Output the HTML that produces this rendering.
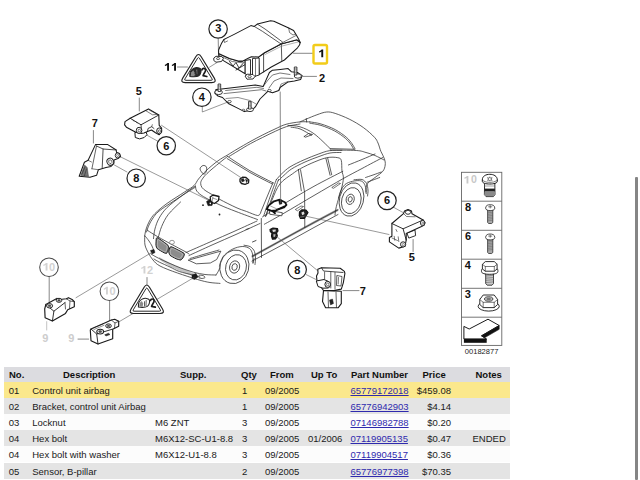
<!DOCTYPE html>
<html><head><meta charset="utf-8">
<style>
html,body{margin:0;padding:0;background:#fff;width:640px;height:480px;overflow:hidden;font-family:"Liberation Sans",sans-serif;}
#dg{position:absolute;left:0;top:0;}
.tb{position:absolute;left:4px;width:506px;font-size:9.5px;color:#1a1a1a;}
.r{position:absolute;left:0;width:506px;height:16px;line-height:16px;}
.r span{position:absolute;top:1px;white-space:nowrap;}
.h span{top:0;}
.h{top:367px;height:15px;line-height:15px;background:#dcdce0;font-weight:bold;color:#111;}
.y{background:#fbe88c;}
.g{background:#e4e4e4;}
.w{background:#fcfcfc;}
a{color:#2f2aae;text-decoration:underline;}
.sb{position:absolute;left:635px;top:177px;width:2.5px;height:303px;background:#858585;border-radius:1px;}
</style></head><body>
<svg id="dg" width="640" height="366" viewBox="0 0 640 366" font-family="Liberation Sans, sans-serif">
<!--CAR-->
<path id="intake" d="M158.7,256.8 L170,263 L181,268 L196.3,274.4 L196.3,277.4 L181,271.5 L170,266.5 L160.5,260.5 Z" fill="#c4c4c4"/>
<path id="sillband" d="M252,256.5 L290,235.6 L314,222.5 L338,209.8" fill="none" stroke="#9a9a9a" stroke-width="2.2"/>
<g fill="none" stroke="#2a2a2a" stroke-width="0.75" stroke-linecap="round" stroke-linejoin="round">
<path d="M144.7,235.9 C144.9,234.8 145.3,231.6 146.1,229.1 C146.9,226.6 148,223.6 149.5,221 C151,218.4 152,216.5 154.9,213.6 C157.8,210.7 162.1,207 167.1,203.4 C172.1,199.8 180.2,194.9 184.7,191.9 C189.2,188.9 191.8,187.7 194.1,185.5 C196.4,183.3 196.5,181.4 198.5,179 C200.5,176.6 202.8,173.8 206,170.8 C209.2,167.8 214.4,163.4 218,160.8 C221.6,158.2 224.3,156.9 227.5,155 C230.7,153.1 233.2,151.4 237,149.2 C240.8,147 245.8,144 250,141.7 C254.2,139.4 257.8,137.4 262,135.3 C266.2,133.2 271,130.8 275,129 C279,127.2 281.8,125.5 286,124.3 C290.2,123.1 296,122.3 300,121.9 C304,121.5 308.2,121.9 309.8,121.9"/>
<path d="M146.5,232 C146.9,230.8 147.9,227.3 149,225 C150.1,222.7 151.5,220.2 153,218 C154.5,215.8 155.5,214.2 158,212 C160.5,209.8 163.4,207.9 168,204.8 C172.6,201.7 181,196.3 185.5,193.4 C190,190.5 193.6,188.3 195.2,187.3"/>
<path d="M229,156.5 C230.5,155.6 234.4,153.2 238,151 C241.6,148.8 246.4,145.8 250.5,143.6 C254.6,141.3 258.3,139.6 262.5,137.5 C266.7,135.4 271.5,133 275.5,131.2 C279.5,129.4 282.4,127.8 286.5,126.6 C290.6,125.4 297.8,124.4 300,124"/>
<path d="M300,121.9 C301.1,121.4 303.5,120.3 306.3,119.1 C309.1,117.9 313.5,116 316.9,114.8 C320.3,113.6 323.6,112.2 326.7,112 C329.8,111.8 331.4,112.2 335.2,113.4 C338.9,114.6 344.5,116.8 349.2,119.1 C353.9,121.4 359.1,124.5 363.3,127.5 C367.5,130.5 372.1,134.7 374.5,137.3 C376.9,139.9 376.9,140.7 378,143 C379.1,145.3 379.8,148.8 380.9,151.4 C382,154 383.7,156.5 384.4,158.8 C385.1,161.1 385.5,162.9 385.2,165 C384.9,167.1 384.5,169.2 382.8,171.3 C381.1,173.4 377.3,175.7 375,177.5 C372.7,179.3 370.2,180.8 368.8,182.2 C367.4,183.6 367,184.4 366.5,186 C366,187.6 366.1,191 366,192"/>
<path d="M306.3,118.5 L306.6,122"/>
<path d="M309.8,121.9 C311.7,122.2 316.9,122.7 321.1,124 C325.3,125.3 331,127.4 335.2,129.6 C339.4,131.8 343.6,135 346.4,137.3 C349.2,139.7 350.6,141.8 352,143.7 C353.4,145.6 354.4,147.8 354.9,148.6"/>
<path d="M309.8,123.2 C311.7,123.6 316.9,124.1 321,125.4 C325.1,126.7 330.6,128.8 334.7,131 C338.8,133.2 342.9,136.2 345.6,138.5 C348.3,140.8 349.7,142.8 351,144.6 C352.3,146.3 353.1,148.3 353.5,149"/>
<path d="M330.2,148.6 L354.9,149.3"/>
<path d="M288,125.5 C290,125.7 295.6,125.4 300,126.8 C304.4,128.2 309.1,130.2 314.1,133.8 C319.1,137.4 327.5,146.1 330.2,148.6"/>
<path d="M291,127.2 C292.5,127.5 296.6,127.6 300,128.9 C303.4,130.2 309.4,134.1 311.3,135.2"/>
<path d="M304.2,136.5 L308.5,133.5 L312.5,134.5 L305.5,137.2 L304.2,136.5"/>
<path d="M330.2,150 C334.6,150.1 350.3,150.1 356.3,150.5 C362.3,150.9 362.9,151.7 366,152.5 C369.1,153.3 372,154.2 375,155.5 C378,156.8 382.5,159.2 384,160"/>
<path d="M348.4,165 C350.7,164.1 357.6,161.3 362,159.5 C366.4,157.7 372.8,154.9 375,154"/>
<path d="M227.5,156.3 C229.2,157.5 234.2,160.9 238,163.3 C241.8,165.7 246,168.5 250,170.8 C254,173.1 258.1,175.2 262,177.2 C265.9,179.2 271.2,181.9 273.1,182.8"/>
<path d="M227.2,158.6 C229,159.7 234.2,162.9 238,165.2 C241.8,167.5 246,170.2 250,172.5 C254,174.8 258.3,176.9 262,178.8 C265.7,180.7 270.6,183.1 272.3,184"/>
<path d="M227.5,156.5 C226.2,157.6 222.9,160 219.5,162.8 C216.1,165.6 209.9,170.7 207,173.5 C204.1,176.3 203.1,177.8 202,179.5 C200.9,181.2 200.7,182.2 200.7,183.5 C200.7,184.8 201.1,186.2 202,187.5 C202.9,188.8 204.3,189.8 206,191 C207.7,192.2 209.7,193.1 212,194.5 C214.3,195.9 216,197.3 220,199.5 C224,201.7 231.6,205.5 236,207.5 C240.4,209.5 243,210.2 246.6,211.5 C250.2,212.8 255.2,215.2 257.5,215.5 C259.8,215.8 260.1,213.4 260.6,213"/>
<path d="M273.1,182.8 L271.6,185.9 L260.6,212.5"/>
<path d="M276.3,179.7 C275.2,182.6 272.1,191 270,197 C267.9,203 264.8,212.5 263.8,215.6"/>
<path d="M278.5,179.5 C277.4,182.5 274.2,191.3 272,197.5 C269.8,203.7 266.6,213.3 265.5,216.5"/>
<path d="M195.5,186.5 C195.7,187.3 195.6,189.5 196.9,191.2 C198.2,192.9 199.8,194.4 203.6,196.7 C207.4,199 214.6,202.5 220,205 C225.4,207.5 229.8,209.1 236,211.5 C242.2,213.9 253.9,218.2 257.5,219.5"/>
<path d="M276.3,179.7 C277.2,178.7 279.7,175.6 282,173.5 C284.3,171.4 286.3,169.2 290,166.9 C293.7,164.6 299.4,161.9 304.1,159.8 C308.8,157.7 313.9,155.7 318.1,154.2 C322.3,152.7 325.4,151.3 329.4,150.7 C333.4,150 339.9,150.4 342,150.3"/>
<path d="M278.5,180.5 C279.4,179.6 281.8,177.2 284,175.3 C286.2,173.4 288,171.2 291.5,169 C295,166.8 300.4,164.1 305,162 C309.6,159.9 314.8,158 319,156.5 C323.2,155 326.3,153.7 330,153 C333.7,152.3 339.2,152.6 341,152.5"/>
<path d="M266,216 C267,213.3 269.7,205.4 272,200 C274.3,194.6 276.6,188.2 280,183.8 C283.4,179.4 289.4,176.2 292.5,173.8 C295.6,171.5 297.4,170.4 298.4,169.7"/>
<path d="M298.4,169.7 C300.5,168.6 306.4,165.4 311.1,163.4 C315.8,161.4 322.2,158.6 326.6,157.7 C331.1,156.8 335.4,157.2 337.8,157.7 C340.2,158.2 340.6,158.3 341.3,160.5 C342,162.7 341.6,168.2 342,171.1 C342.4,174 343.5,175 343.4,178.1 C343.3,181.2 342.5,184.7 341.3,189.4 C340.1,194.1 337.4,202 336.4,206.3 C335.3,210.6 335.2,213.6 335,215"/>
<path d="M298.4,169.7 L301.3,190.8"/>
<path d="M300.5,169.7 L304.6,192.2 L304.8,227.5"/>
<path d="M325.9,158.4 L330.1,175.3"/>
<path d="M327.7,158.2 L331.7,174.8"/>
<path d="M262.5,216.9 C266.1,214.7 275.4,208.9 284,203.8 C292.6,198.7 304.2,191.7 314,186.3 C323.8,180.9 338,173.8 342.8,171.3"/>
<path d="M264.4,224.2 C267.7,222.4 275.7,218 284,213.2 C292.3,208.4 304.2,201.2 314,195.5 C323.8,189.8 334.8,183.3 342.8,178.8 C350.8,174.3 355.3,172.1 362,168.5 C368.7,164.9 379.3,159.3 382.8,157.5"/>
<path d="M365.6,177.5 C366.8,177.1 370.4,175.9 373,175 C375.6,174.1 379.9,172.5 381.3,172"/>
<path d="M367.2,182.2 C368.2,181.8 370.9,180.8 373,180 C375.1,179.2 378.6,177.9 379.7,177.5"/>
<path d="M261.3,218.5 L261.5,257.5"/>
<path d="M252,256.5 L290,235.6 L314,222.5 L338,209.8"/>
<path d="M252,261.1 L290,240.8 L314,227.5 L338,214.5"/>
<path d="M144.7,235.9 C144.8,237.4 144.4,242.2 145,245 C145.6,247.8 147.1,250.5 148.4,253 C149.7,255.5 151.1,257.8 153,260 C154.9,262.2 155.9,263.8 160,266 C164.1,268.2 171.2,270.8 177.5,273 C183.8,275.2 192.1,277.9 197.5,279.5 C202.9,281.1 206.2,281.9 210,282.5 C213.8,283.1 218.3,283.2 220,283.4"/>
<path d="M147,230 C148.2,230.8 150.2,232.2 154,234.5 C157.8,236.8 164.8,240.7 170,243.5 C175.2,246.3 181.8,249.8 185,251.5 C188.2,253.2 188.3,253.6 189,254"/>
<path d="M186,252.5 C190,250.8 201.8,245.6 210,242 C218.2,238.4 227.2,234.5 235,231 C242.8,227.5 253.3,222.7 257,221"/>
<path d="M189,255.5 C192.8,253.8 204,248.6 212,245 C220,241.4 229,237.6 237,234 C245,230.4 256.2,225.2 260,223.5"/>
<path d="M195.5,185.8 C193,187.6 185.3,193.1 180.6,196.7 C175.9,200.3 170.7,203.9 167.1,207.5 C163.5,211.1 161,214.7 159,218.3 C157,221.9 155.8,225.7 154.9,229.1 C154,232.5 153.7,237 153.5,238.6"/>
<path d="M180.6,202 C178.6,204.1 171.6,210.2 168.4,214.3 C165.2,218.4 163.4,222.6 161.7,226.4 C160,230.2 158.9,235.5 158.3,237.3"/>
<path d="M188.5,260.2 L205,255.5 L220.9,251.1 L216.7,259.5 L210.3,263 L196.3,263.8 L188.5,260.2"/>
<path d="M190,258.5 C192.5,257.8 200.2,255.4 205,254 C209.8,252.6 216.7,250.7 219,250"/>
<path d="M145.5,236.5 C146.1,237.2 147.9,239.4 149,241 C150.1,242.6 151.2,244.5 152,246 C152.8,247.5 153.2,249.3 153.5,250"/>
<path d="M151,254 C152.2,254.7 155.1,256.5 158.3,258.1 C161.5,259.7 166.2,261.9 170,263.5 C173.8,265.1 176.9,266.6 180.8,268 C184.7,269.4 189.4,271.1 193.4,272.2 C197.4,273.3 201.2,274 205,274.5 C208.8,275 214.2,274.9 216,275"/>
<path d="M154,259 C154.9,259.6 157,261 159.7,262.3 C162.4,263.6 166.7,265.5 170,267 C173.3,268.5 175.6,270.2 179.4,271.5 C183.2,272.8 189.3,274.1 192.7,275 C196.1,275.9 198.8,276.7 200,277"/>
<path d="M199,275.2 C199.7,275.2 202,275.1 203,275.5 C204,275.9 205.2,277 205,277.5 C204.8,278 203,278.4 202,278.5 C201,278.6 199.5,277.9 199,277.8"/>
<path d="M216,275 C216.5,274.2 218.3,271.5 219,270 C219.7,268.5 219.8,266.7 220,266"/>
<path d="M219.5,266 C219.8,265.2 220.2,262.8 221,261 C221.8,259.2 222.5,257 224.5,255 C226.5,253 229.9,250.4 232.8,249 C235.8,247.6 239.4,246.6 242.2,246.5 C245,246.4 247.8,247.2 249.5,248.5 C251.2,249.8 251.9,251.6 252.5,254 C253.1,256.4 252.9,261.5 253,263"/>
<path d="M244,245.2 C245.1,245.5 248.8,245.8 250.5,246.8 C252.2,247.9 253.7,249.6 254.5,251.5 C255.3,253.4 255.4,255.8 255.5,258 C255.6,260.2 255.1,263.4 255,264.5"/>
<path d="M338.5,198 C338.9,196.8 339.7,192.9 340.8,190.7 C341.9,188.4 343.1,186.1 345,184.5 C346.9,182.9 349.8,181.9 352.5,181.3 C355.2,180.7 359.2,180.2 361.3,181 C363.4,181.8 364.4,183.7 365.2,185.8 C366,187.9 366,192.3 366.2,193.6"/>
<path d="M354,179.8 C355.3,179.8 359.9,178.9 362,179.5 C364.1,180.1 365.5,181.8 366.5,183.5 C367.5,185.2 367.8,187.9 368,190 C368.2,192.1 367.6,195 367.5,196"/>
<path d="M253,263 L254,258.5"/>
<path d="M246,229.5 L249,228.5"/>
</g>
<ellipse cx="234.4" cy="266.8" rx="14.4" ry="17.0" transform="rotate(15 234.4 266.8)" fill="#fff" stroke="#2a2a2a" stroke-width="0.75"/>
<ellipse cx="236.0" cy="267.3" rx="10.3" ry="12.8" transform="rotate(15 236.0 267.3)" fill="none" stroke="#2a2a2a" stroke-width="0.75"/>
<ellipse cx="234.6" cy="267.0" rx="5.0" ry="6.2" transform="rotate(15 234.6 267.0)" fill="none" stroke="#2a2a2a" stroke-width="0.75"/>
<ellipse cx="234.6" cy="267.0" rx="2.6" ry="3.4" transform="rotate(15 234.6 267.0)" fill="none" stroke="#2a2a2a" stroke-width="0.75"/>
<ellipse cx="351.5" cy="199.5" rx="12.0" ry="17.0" transform="rotate(15 351.5 199.5)" fill="#fff" stroke="#2a2a2a" stroke-width="0.75"/>
<ellipse cx="351.3" cy="200.6" rx="9.6" ry="13.2" transform="rotate(15 351.3 200.6)" fill="none" stroke="#2a2a2a" stroke-width="0.75"/>
<ellipse cx="350.2" cy="199.3" rx="4.0" ry="5.2" transform="rotate(15 350.2 199.3)" fill="none" stroke="#2a2a2a" stroke-width="0.75"/>
<ellipse cx="350.2" cy="199.3" rx="2.0" ry="2.7" transform="rotate(15 350.2 199.3)" fill="none" stroke="#2a2a2a" stroke-width="0.75"/>
<path d="M156.3,238.7 C156.5,238 156.8,237.3 158,238 C159.2,238.7 167,244.2 168,245.3 C169,246.4 168.4,248.5 168.3,249.3 C168.2,250.1 167.1,253 166.7,253.3 C166.3,253.6 164.9,253.2 164,252.7 C163.1,252.2 158.1,249.4 157.3,248.7 C156.5,248 156.1,246.3 156,245.3 C155.9,244.3 156.1,239.4 156.3,238.7 Z" fill="#8c8c8c" stroke="#1a1a1a" stroke-width="1.0"/>
<path d="M157.5,240.4 C157.7,239.8 157.9,239.3 158.8,239.9 C159.8,240.4 165.8,244.7 166.6,245.5 C167.4,246.4 167,248 166.9,248.7 C166.8,249.3 166,251.5 165.6,251.8 C165.3,252 164.3,251.7 163.5,251.3 C162.8,251 158.9,248.8 158.3,248.2 C157.7,247.6 157.4,246.3 157.3,245.5 C157.2,244.8 157.4,241 157.5,240.4 Z" fill="none" stroke="#d0d0d0" stroke-width="0.6"/>
<path d="M170,247.3 C170.3,246.9 170.6,246.4 172,247 C173.4,247.6 182.9,252.3 184,253.3 C185.1,254.3 183.6,256.6 183.3,257.3 C183,258 181.4,259.9 180.7,260 C180,260.1 177.1,259.2 176,258.7 C174.9,258.2 170.7,256 170,255.3 C169.3,254.6 168.7,252.1 168.7,251.3 C168.7,250.5 169.7,247.7 170,247.3 Z" fill="#8c8c8c" stroke="#1a1a1a" stroke-width="1.0"/>
<path d="M171.2,248.7 C171.5,248.4 171.7,248 172.8,248.5 C173.9,249 181.3,252.6 182.1,253.4 C183,254.2 181.9,256 181.6,256.5 C181.3,257 180.1,258.5 179.6,258.6 C179,258.7 176.7,258 175.9,257.6 C175.1,257.2 171.8,255.5 171.2,255 C170.7,254.4 170.2,252.5 170.2,251.8 C170.2,251.2 171,249.1 171.2,248.7 Z" fill="none" stroke="#d0d0d0" stroke-width="0.6"/>
<ellipse cx="172" cy="242.3" rx="2.4" ry="2" fill="#fff" stroke="#555" stroke-width="0.6"/>
<path d="M240,179 L242.5,177.2 L246,177.5 L248.8,180 L248.5,183 L245,184.3 L241.5,183.5 L240,181.5 Z" fill="#fff" stroke="#1a1a1a" stroke-width="1.3" stroke-linejoin="round" />
<path d="M241,179.5 L243.5,178.4 L244.5,181 L242,182 Z" fill="#1a1a1a" stroke="#1a1a1a" stroke-width="0.4" stroke-linejoin="round" />
<path d="M245.5,179 L247.8,180.6 L246.5,182.7 Z" fill="#1a1a1a" stroke="#1a1a1a" stroke-width="0.4" stroke-linejoin="round" />
<path d="M210.2,197 L213,195 L219,196.5 L218.5,200.5 L214.5,203.5 L210.8,202.2 Z" fill="#fff" stroke="#1a1a1a" stroke-width="1.3" stroke-linejoin="round" />
<path d="M212.5,198 L217,199.5" fill="none" stroke="#555" stroke-width="0.6" stroke-linecap="round" stroke-linejoin="round"/>
<path d="M213,197 L212,202" fill="none" stroke="#555" stroke-width="0.6" stroke-linecap="round" stroke-linejoin="round"/>
<path d="M206.5,201.5 L209.5,199.5 L213,202.5 L212,205.5 L208,205.7 Z" fill="#1a1a1a" stroke="#1a1a1a" stroke-width="0.5" stroke-linejoin="round" />
<path d="M209,203 L211,202.5 L211,204.5 Z" fill="#fff" stroke="#1a1a1a" stroke-width="0" stroke-linejoin="round" />
<path d="M269.3,210.6 L269.8,214.3 L281.8,215.8 L282.3,212.7 Z" fill="#fff" stroke="#1a1a1a" stroke-width="0.7" stroke-linejoin="round" />
<path d="M266.7,209.1 L268.8,205.4 L274,201.3 L279.7,199.7 L284.9,202.3 L286.5,204.9 L283.9,207.5 L277.6,209.6 L274.5,211.7 L275,213.2 L272.4,211.1 Z" fill="#fff" stroke="#111" stroke-width="1.8" stroke-linejoin="round" />
<path d="M278.5,200.2 L281.5,199.8 L282,203.8 L279.5,204.5 Z" fill="#111" stroke="#1a1a1a" stroke-width="0.4" stroke-linejoin="round" />
<path d="M272.5,210.5 L276,210.2 L284,206.3" fill="none" stroke="#111" stroke-width="1.3" stroke-linecap="round" stroke-linejoin="round"/>
<path d="M270.5,206 L277,209" fill="none" stroke="#666" stroke-width="0.6" stroke-linecap="round" stroke-linejoin="round"/>
<path d="M299.5,212 L302,209.8 L306,210 L308,212.5 L306.5,215 L304.5,218.3 L300.5,218.5 L299.3,215.5 Z" fill="#222" stroke="#111" stroke-width="1.2" stroke-linejoin="round" />
<path d="M301.3,212.6 L303.8,211.6 L304.6,214 L302.3,215.2 Z" fill="#ddd" stroke="#1a1a1a" stroke-width="0" stroke-linejoin="round" />
<path d="M300.5,217 L304,216.5" fill="none" stroke="#999" stroke-width="0.6" stroke-linecap="round" stroke-linejoin="round"/>
<path d="M270,229.5 L273,228 L277.5,228.6 L278,231 L276.5,233 L277.3,236 L275.5,239 L272.5,239.2 L271.5,236 L272,233 L270.3,231.5 Z" fill="#222" stroke="#111" stroke-width="1.2" stroke-linejoin="round" />
<path d="M272.3,229.8 L275.8,229.5 L275.6,231.5 L273,232 Z" fill="#ddd" stroke="#1a1a1a" stroke-width="0" stroke-linejoin="round" />
<path d="M273.3,234.3 L275.6,234.2 L275,236.8 L273.5,236.9 Z" fill="#bbb" stroke="#1a1a1a" stroke-width="0" stroke-linejoin="round" />
<path d="M150.5,250.5 L154,249.5 L155,252.5 L152,254 Z" fill="#1a1a1a" stroke="#1a1a1a" stroke-width="0.5" stroke-linejoin="round" />
<path d="M192,275 L196,273.5 L198,277 L194.5,279.5 L192,278.5 Z" fill="#1a1a1a" stroke="#1a1a1a" stroke-width="0.5" stroke-linejoin="round" />
<ellipse cx="203" cy="205.2" rx="0.9" ry="0.9" fill="#222" stroke="#222" stroke-width="0"/>
<ellipse cx="219.5" cy="214.5" rx="0.9" ry="0.9" fill="#222" stroke="#222" stroke-width="0"/>
<path d="M200,169 C199.9,167.6 201.9,165.8 203,165.5 C204.1,165.2 206,165.9 206.5,167 C207,168.1 206.5,170.8 206,172 C205.5,173.2 204.5,174.5 203.5,174 C202.5,173.5 200.1,170.4 200,169 Z" fill="none" stroke="#1a1a1a" stroke-width="0.7" stroke-linejoin="round" />
<path d="M295.3,209.5 L301,206 L303.5,206.5 L297.5,210.8 Z" fill="none" stroke="#1a1a1a" stroke-width="0.6" stroke-linejoin="round" />
<path d="M331.8,187.5 L338.5,183 L340.5,183.5 L333.5,188.3 Z" fill="none" stroke="#1a1a1a" stroke-width="0.6" stroke-linejoin="round" />
<path d="M252.5,242 L256,240.5" fill="none" stroke="#222" stroke-width="0.8" stroke-linecap="round" stroke-linejoin="round"/>
<path d="M218.2,38.7 L218.5,53" fill="none" stroke="#555" stroke-width="0.7" stroke-linecap="round" stroke-linejoin="round"/>
<path d="M177.5,67 L187.5,67" fill="none" stroke="#555" stroke-width="0.7" stroke-linecap="round" stroke-linejoin="round"/>
<path d="M209.5,67.2 L217,62.5" fill="none" stroke="#555" stroke-width="0.6" stroke-linecap="round" stroke-linejoin="round"/>
<path d="M293.5,53.3 L313,53.3" fill="none" stroke="#555" stroke-width="0.7" stroke-linecap="round" stroke-linejoin="round"/>
<path d="M303,76.4 L316.5,76.4" fill="none" stroke="#555" stroke-width="0.7" stroke-linecap="round" stroke-linejoin="round"/>
<path d="M280.2,92 L280.6,203" fill="none" stroke="#555" stroke-width="0.7" stroke-linecap="round" stroke-linejoin="round"/>
<path d="M202.3,106.6 L202.3,112 L230,101.2" fill="none" stroke="#555" stroke-width="0.6" stroke-linecap="round" stroke-linejoin="round"/>
<path d="M139.3,98 L139.3,111" fill="none" stroke="#555" stroke-width="0.7" stroke-linecap="round" stroke-linejoin="round"/>
<path d="M93.4,130.5 L93.4,143" fill="none" stroke="#555" stroke-width="0.7" stroke-linecap="round" stroke-linejoin="round"/>
<path d="M141.5,132 L151.6,137.8 L158,141.3" fill="none" stroke="#555" stroke-width="0.6" stroke-linecap="round" stroke-linejoin="round"/>
<path d="M161.5,125.3 L243,179" fill="none" stroke="#555" stroke-width="0.6" stroke-linecap="round" stroke-linejoin="round"/>
<path d="M120,156.6 L208,200" fill="none" stroke="#555" stroke-width="0.6" stroke-linecap="round" stroke-linejoin="round"/>
<path d="M114.4,165 L127,172" fill="none" stroke="#555" stroke-width="0.6" stroke-linecap="round" stroke-linejoin="round"/>
<path d="M76,297.7 L152.5,252" fill="none" stroke="#555" stroke-width="0.6" stroke-linecap="round" stroke-linejoin="round"/>
<path d="M119.5,321.5 L194,277.5" fill="none" stroke="#555" stroke-width="0.6" stroke-linecap="round" stroke-linejoin="round"/>
<path d="M49.2,276.5 L49.2,303" fill="none" stroke="#555" stroke-width="0.7" stroke-linecap="round" stroke-linejoin="round"/>
<path d="M46.7,321.6 L46.7,330" fill="none" stroke="#aaa" stroke-width="0.7" stroke-linecap="round" stroke-linejoin="round"/>
<path d="M109.6,300.5 L109.6,324" fill="none" stroke="#555" stroke-width="0.7" stroke-linecap="round" stroke-linejoin="round"/>
<path d="M78,339.1 L88.6,339.1" fill="none" stroke="#555" stroke-width="0.7" stroke-linecap="round" stroke-linejoin="round"/>
<path d="M147,277.5 L147,284.5" fill="none" stroke="#555" stroke-width="0.7" stroke-linecap="round" stroke-linejoin="round"/>
<path d="M305,216 L389,234.5" fill="none" stroke="#555" stroke-width="0.6" stroke-linecap="round" stroke-linejoin="round"/>
<path d="M394,207.5 L403,212.5" fill="none" stroke="#555" stroke-width="0.6" stroke-linecap="round" stroke-linejoin="round"/>
<path d="M413.1,239.5 L413.1,251.5" fill="none" stroke="#555" stroke-width="0.7" stroke-linecap="round" stroke-linejoin="round"/>
<path d="M276,236 L318,271" fill="none" stroke="#555" stroke-width="0.6" stroke-linecap="round" stroke-linejoin="round"/>
<path d="M306,274.5 L316,279.5" fill="none" stroke="#555" stroke-width="0.6" stroke-linecap="round" stroke-linejoin="round"/>
<path d="M343,290.6 L359,290.6" fill="none" stroke="#555" stroke-width="0.7" stroke-linecap="round" stroke-linejoin="round"/>
<path d="M218.6,53.6 L220.7,54.5 L229.5,58.4 L238.2,61.1 L242.6,61.1 L245.2,60 L245.2,73.7 L223.4,60.6 L218.8,56 Z" fill="#fff" stroke="#1a1a1a" stroke-width="1.05" stroke-linejoin="round" />
<path d="M258.4,57.1 L264.5,52.7 L281,44 L297,39.8 L300.2,42.5 L299.5,45 L297.5,47.8 L284.4,60 L271.3,67 L259.2,74.6 Z" fill="#fff" stroke="#1a1a1a" stroke-width="1.05" stroke-linejoin="round" />
<path d="M218.6,53.6 L218.6,50 L221.4,43.6 L223.9,39.5 L227.1,37.9 L233.7,34.6 L250.9,25.6 L254.2,26.4 L257.5,24 L270.6,20.7 L273.9,21.2 L288.7,28 L293.6,30.5 L296,34.6 L298.5,38.7 L300.2,42.5 L297,39.8 L281,44 L264.5,52.7 L258.4,57.1 L251.4,56.7 L248.7,58 L242.6,61.1 L238.2,61.1 L229.5,58.4 L220.7,54.5 Z" fill="#fff" stroke="#1a1a1a" stroke-width="1.05" stroke-linejoin="round" />
<path d="M254.2,26.4 L262.4,31.3 L280.5,43.6" fill="none" stroke="#222" stroke-width="0.75" stroke-linecap="round" stroke-linejoin="round"/>
<path d="M257.5,24.2 L265,29 L282.5,42" fill="none" stroke="#222" stroke-width="0.75" stroke-linecap="round" stroke-linejoin="round"/>
<path d="M280.5,43.6 L296,35.5" fill="none" stroke="#222" stroke-width="0.6" stroke-linecap="round" stroke-linejoin="round"/>
<path d="M281.3,44 L281.8,60.5" fill="none" stroke="#222" stroke-width="0.75" stroke-linecap="round" stroke-linejoin="round"/>
<path d="M265,54.5 L281.5,46.2 L298,42" fill="none" stroke="#666" stroke-width="0.5" stroke-linecap="round" stroke-linejoin="round"/>
<path d="M219,55.4 L232.1,61.5 L242.6,62.8 L248.7,60.6" fill="none" stroke="#222" stroke-width="0.6" stroke-linecap="round" stroke-linejoin="round"/>
<path d="M288.7,28 L289.5,32.5 L293,35 L295.5,34" fill="none" stroke="#222" stroke-width="0.6" stroke-linecap="round" stroke-linejoin="round"/>
<path d="M223.9,39.5 L224.5,42.5 L227.5,41" fill="none" stroke="#222" stroke-width="0.6" stroke-linecap="round" stroke-linejoin="round"/>
<path d="M229.5,61.5 L233,66 L236,62.5 L239,68 L243,63.5" fill="none" stroke="#222" stroke-width="0.9" stroke-linecap="round" stroke-linejoin="round"/>
<path d="M236,70 L246,64" fill="none" stroke="#222" stroke-width="0.9" stroke-linecap="round" stroke-linejoin="round"/>
<path d="M245.2,60.5 L250.5,59.5 L250.5,76 L245.2,74 Z" fill="#fff" stroke="#1a1a1a" stroke-width="0.9" stroke-linejoin="round" />
<path d="M252.5,58.5 L259.2,58 L259.2,75 L252.5,77 Z" fill="#fff" stroke="#1a1a1a" stroke-width="0.9" stroke-linejoin="round" />
<path d="M255.5,59 L255.5,76" fill="none" stroke="#222" stroke-width="0.6" stroke-linecap="round" stroke-linejoin="round"/>
<path d="M263.6,53.6 L263.6,72" fill="none" stroke="#222" stroke-width="0.8" stroke-linecap="round" stroke-linejoin="round"/>
<path d="M213.8,58 L216,56.3 L221.5,56.5 L223.4,58.5 L221.5,61.5 L216,62.2 L213.8,60.5 Z" fill="#fff" stroke="#1a1a1a" stroke-width="0.9" stroke-linejoin="round" />
<ellipse cx="218.1" cy="58.6" rx="1.6" ry="1.0" fill="none" stroke="#222" stroke-width="0.7"/>
<path d="M245,76 L247.5,74.2 L253,74.5 L255,76.5 L253,79 L247,79.2 Z" fill="#fff" stroke="#1a1a1a" stroke-width="0.9" stroke-linejoin="round" />
<ellipse cx="249.6" cy="76.6" rx="1.7" ry="1.0" fill="none" stroke="#222" stroke-width="0.7"/>
<path d="M218,96 L214.8,93 L216,89.5 L221.7,88.9 L255.3,85 L263.1,86.6 L269.4,72.5 L272.5,70.2 L280.3,69.4 L288.1,68.6 L291.3,71.7 L297.5,72.5 L302.2,75.6 L300.6,79.5 L294.4,81.1 L288.1,81.9 L280.3,87.3 L278.8,90.5 L272.5,92.8 L267.8,91.3 L260,99 L255.3,106.9 L252.2,110 L244.4,111.6 L238.1,108.4 L228.8,103.8 L222.5,97.5 Z" fill="#fff" stroke="#1a1a1a" stroke-width="1.05" stroke-linejoin="round" />
<path d="M225.6,90.5 L256.9,87.3 L263.5,88.5" fill="none" stroke="#222" stroke-width="0.6" stroke-linecap="round" stroke-linejoin="round"/>
<path d="M224,93.6 L261.6,89.7 L266,91" fill="none" stroke="#222" stroke-width="0.6" stroke-linecap="round" stroke-linejoin="round"/>
<path d="M263.1,86.6 L268,80 L272.5,75 L280,73 L290,74.5" fill="none" stroke="#222" stroke-width="0.6" stroke-linecap="round" stroke-linejoin="round"/>
<path d="M269,88 L274,81 L281,78 L293,78.5" fill="none" stroke="#222" stroke-width="0.6" stroke-linecap="round" stroke-linejoin="round"/>
<path d="M226,98.5 L238,97.5 L250,100.5 L256,104" fill="none" stroke="#222" stroke-width="0.5" stroke-linecap="round" stroke-linejoin="round"/>
<path d="M278.8,90.5 L281,84 L288,81.5" fill="none" stroke="#222" stroke-width="0.5" stroke-linecap="round" stroke-linejoin="round"/>
<ellipse cx="218.6" cy="92.2" rx="3.8" ry="2.4" fill="#fff" stroke="#222" stroke-width="0.9"/>
<ellipse cx="297.8" cy="76" rx="3.6" ry="2.2" fill="#fff" stroke="#222" stroke-width="0.9"/>
<ellipse cx="250" cy="109.6" rx="3.4" ry="2" fill="#fff" stroke="#222" stroke-width="0.9"/>
<path d="M218.1,84 L220.7,84 L220.7,91.5 L218.1,91.5 Z" fill="#fff" stroke="#1a1a1a" stroke-width="0.8" stroke-linejoin="round" />
<path d="M218.2,85.5 L220.6,85.1" fill="none" stroke="#444" stroke-width="0.5" stroke-linecap="round" stroke-linejoin="round"/>
<path d="M218.2,86.9 L220.6,86.5" fill="none" stroke="#444" stroke-width="0.5" stroke-linecap="round" stroke-linejoin="round"/>
<path d="M218.2,88.3 L220.6,87.9" fill="none" stroke="#444" stroke-width="0.5" stroke-linecap="round" stroke-linejoin="round"/>
<path d="M218.2,89.7 L220.6,89.3" fill="none" stroke="#444" stroke-width="0.5" stroke-linecap="round" stroke-linejoin="round"/>
<path d="M294.3,67 L296.9,67 L296.9,75 L294.3,75 Z" fill="#fff" stroke="#1a1a1a" stroke-width="0.8" stroke-linejoin="round" />
<path d="M294.4,68.5 L296.8,68.1" fill="none" stroke="#444" stroke-width="0.5" stroke-linecap="round" stroke-linejoin="round"/>
<path d="M294.4,69.9 L296.8,69.5" fill="none" stroke="#444" stroke-width="0.5" stroke-linecap="round" stroke-linejoin="round"/>
<path d="M294.4,71.3 L296.8,70.9" fill="none" stroke="#444" stroke-width="0.5" stroke-linecap="round" stroke-linejoin="round"/>
<path d="M294.4,72.7 L296.8,72.3" fill="none" stroke="#444" stroke-width="0.5" stroke-linecap="round" stroke-linejoin="round"/>
<path d="M294.4,74.1 L296.8,73.7" fill="none" stroke="#444" stroke-width="0.5" stroke-linecap="round" stroke-linejoin="round"/>
<path d="M248.5,101.4 L251.1,101.4 L251.1,109 L248.5,109 Z" fill="#fff" stroke="#1a1a1a" stroke-width="0.8" stroke-linejoin="round" />
<path d="M248.6,102.9 L251,102.5" fill="none" stroke="#444" stroke-width="0.5" stroke-linecap="round" stroke-linejoin="round"/>
<path d="M248.6,104.3 L251,103.9" fill="none" stroke="#444" stroke-width="0.5" stroke-linecap="round" stroke-linejoin="round"/>
<path d="M248.6,105.7 L251,105.3" fill="none" stroke="#444" stroke-width="0.5" stroke-linecap="round" stroke-linejoin="round"/>
<path d="M248.6,107.1 L251,106.7" fill="none" stroke="#444" stroke-width="0.5" stroke-linecap="round" stroke-linejoin="round"/>
<ellipse cx="229.5" cy="101.6" rx="1.8" ry="1.1" fill="#fff" stroke="#222" stroke-width="0.7"/>
<ellipse cx="269.4" cy="90.5" rx="1.8" ry="1.1" fill="#fff" stroke="#222" stroke-width="0.7"/>
<ellipse cx="243.5" cy="110" rx="1.3" ry="0.8" fill="#fff" stroke="#222" stroke-width="0.6"/>
<path d="M134.9,132.5 L135.3,137.5 L139.6,138.9 L144.2,137.5 L147,134.7 L146,132 Z" fill="#fff" stroke="#1a1a1a" stroke-width="1.0" stroke-linejoin="round" />
<path d="M130.2,118.3 L148.5,108.9 L158.8,115 L159.2,125.3 L161.6,128.1 L161.6,131.9 L159.2,134.7 L155.5,132.8 L151.5,130 L147.5,131.5 L144,133 L141,133.5 L135.8,132.3 L126.4,127.2 L124.6,124.8 L125,121.6 Z" fill="#fff" stroke="#1a1a1a" stroke-width="1.1" stroke-linejoin="round" />
<path d="M130.2,118.3 L141,124.8 L158.8,115" fill="none" stroke="#1a1a1a" stroke-width="0.9" stroke-linecap="round" stroke-linejoin="round"/>
<path d="M141,124.8 L141.3,128" fill="none" stroke="#1a1a1a" stroke-width="0.8" stroke-linecap="round" stroke-linejoin="round"/>
<path d="M147.5,131.5 L148,128.5 L151.7,126.7 L154,128.5" fill="none" stroke="#1a1a1a" stroke-width="0.8" stroke-linecap="round" stroke-linejoin="round"/>
<path d="M151.7,126.7 L152.3,124.7" fill="none" stroke="#222" stroke-width="0.6" stroke-linecap="round" stroke-linejoin="round"/>
<path d="M145.5,110.5 L152.5,114.8 L157.3,114.4" fill="none" stroke="#222" stroke-width="0.6" stroke-linecap="round" stroke-linejoin="round"/>
<path d="M149.5,110.2 L155.5,113.3" fill="none" stroke="#222" stroke-width="0.6" stroke-linecap="round" stroke-linejoin="round"/>
<path d="M133,120 L134,121.3" fill="none" stroke="#222" stroke-width="0.6" stroke-linecap="round" stroke-linejoin="round"/>
<path d="M136,121.8 L137,123" fill="none" stroke="#222" stroke-width="0.6" stroke-linecap="round" stroke-linejoin="round"/>
<ellipse cx="139.1" cy="130.4" rx="2.8" ry="3.1" fill="#fff" stroke="#222" stroke-width="1.0"/>
<ellipse cx="139.3" cy="130.6" rx="1.2" ry="1.4" fill="none" stroke="#222" stroke-width="0.6"/>
<ellipse cx="159.2" cy="130.9" rx="2.5" ry="3.0" fill="#fff" stroke="#222" stroke-width="1.0"/>
<ellipse cx="159.4" cy="131.1" rx="1.1" ry="1.3" fill="none" stroke="#222" stroke-width="0.6"/>
<path d="M95.6,144.4 L107.8,144.6 L116.2,150 L116.5,152.5 L119.5,153.5 L120.5,156.5 L118,158.5 L114,160 L113.8,163.5 L111,166.5 L106,167.5 L98.4,169.7 L96.6,175.3 L90,177.2 L79.2,176.2 L84.4,162.2 L88.1,160.3 Z" fill="#fff" stroke="#1a1a1a" stroke-width="1.05" stroke-linejoin="round" />
<path d="M96.5,146 L91.9,168.8" fill="none" stroke="#222" stroke-width="0.7" stroke-linecap="round" stroke-linejoin="round"/>
<path d="M96.5,146 L103.1,149 L116.2,150" fill="none" stroke="#222" stroke-width="0.8" stroke-linecap="round" stroke-linejoin="round"/>
<path d="M103.1,149 L102.2,167.8" fill="none" stroke="#222" stroke-width="0.8" stroke-linecap="round" stroke-linejoin="round"/>
<path d="M92,168.8 L98.4,169.7" fill="none" stroke="#222" stroke-width="0.6" stroke-linecap="round" stroke-linejoin="round"/>
<path d="M88.1,160.3 L91.5,162" fill="none" stroke="#222" stroke-width="0.6" stroke-linecap="round" stroke-linejoin="round"/>
<path d="M80.6,175.6 L84.6,165 L87.2,167.5 L88.5,176.4 Z" fill="#777" stroke="#1a1a1a" stroke-width="0.4" stroke-linejoin="round" />
<path d="M82,174 L85,167" fill="none" stroke="#333" stroke-width="0.7" stroke-linecap="round" stroke-linejoin="round"/>
<path d="M84.5,175.5 L86.5,169" fill="none" stroke="#333" stroke-width="0.7" stroke-linecap="round" stroke-linejoin="round"/>
<ellipse cx="117.6" cy="155.4" rx="2.4" ry="2.5" fill="#fff" stroke="#222" stroke-width="0.9"/>
<ellipse cx="117.6" cy="155.4" rx="1.0" ry="1.1" fill="none" stroke="#222" stroke-width="0.5"/>
<ellipse cx="110.3" cy="161.7" rx="3.3" ry="3.6" fill="#fff" stroke="#222" stroke-width="1.0" transform="rotate(-25 110.3 161.7)"/>
<ellipse cx="110.3" cy="161.7" rx="1.6" ry="1.9" fill="none" stroke="#222" stroke-width="0.6" transform="rotate(-25 110.3 161.7)"/>
<path d="M44.7,309 L45.8,304.6 L56.8,298.4 L60,299.5 L66.3,298.8 L68.5,297.7 L72.1,299.5 L74.3,301.7 L74.3,306.8 L67.7,309.7 L65.5,313.4 L52.4,321 L45.1,317.7 Z" fill="#fff" stroke="#1a1a1a" stroke-width="1.15" stroke-linejoin="round" />
<path d="M45.8,304.6 L53.9,311.2 L65,302.6" fill="none" stroke="#1a1a1a" stroke-width="0.9" stroke-linecap="round" stroke-linejoin="round"/>
<path d="M53.9,311.2 L52.4,321" fill="none" stroke="#1a1a1a" stroke-width="0.9" stroke-linecap="round" stroke-linejoin="round"/>
<path d="M65,302.6 L65.5,309" fill="none" stroke="#222" stroke-width="0.7" stroke-linecap="round" stroke-linejoin="round"/>
<path d="M66.3,298.8 L70,301 L74.3,301.7" fill="none" stroke="#222" stroke-width="0.7" stroke-linecap="round" stroke-linejoin="round"/>
<path d="M70,301 L69.5,308.5" fill="none" stroke="#222" stroke-width="0.7" stroke-linecap="round" stroke-linejoin="round"/>
<ellipse cx="49.6" cy="305.8" rx="3.0" ry="2.2" fill="#fff" stroke="#222" stroke-width="1.0"/>
<ellipse cx="49.6" cy="305.8" rx="1.4" ry="1.0" fill="#555" stroke="#222" stroke-width="0.4"/>
<ellipse cx="59" cy="300.3" rx="2.8" ry="2.0" fill="#fff" stroke="#222" stroke-width="1.0"/>
<ellipse cx="59" cy="300.3" rx="1.3" ry="0.9" fill="#555" stroke="#222" stroke-width="0.4"/>
<path d="M90.3,330 L91,329 L105.3,322.7 L111.3,320 L114.7,319.3 L118.7,321.3 L118.7,326.3 L112.7,329.3 L112.7,338.7 L98,344 L91,340.7 Z" fill="#fff" stroke="#1a1a1a" stroke-width="1.15" stroke-linejoin="round" />
<path d="M91,329 L96.7,334 L112,329.3" fill="none" stroke="#1a1a1a" stroke-width="0.9" stroke-linecap="round" stroke-linejoin="round"/>
<path d="M96.7,334 L98,344" fill="none" stroke="#1a1a1a" stroke-width="0.9" stroke-linecap="round" stroke-linejoin="round"/>
<path d="M111.3,320 L115,323 L118.7,321.3" fill="none" stroke="#222" stroke-width="0.7" stroke-linecap="round" stroke-linejoin="round"/>
<path d="M115,323 L114.5,328" fill="none" stroke="#222" stroke-width="0.7" stroke-linecap="round" stroke-linejoin="round"/>
<path d="M93,328 L103,324" fill="none" stroke="#222" stroke-width="0.5" stroke-linecap="round" stroke-linejoin="round"/>
<path d="M94,329.5 L104,325.3" fill="none" stroke="#222" stroke-width="0.5" stroke-linecap="round" stroke-linejoin="round"/>
<path d="M104.7,334.8 L108.5,333.3 L110,334.5 L106,336 Z" fill="#333" stroke="#1a1a1a" stroke-width="0.5" stroke-linejoin="round" />
<ellipse cx="100.2" cy="331.6" rx="3.4" ry="2.4" fill="#fff" stroke="#222" stroke-width="1.1"/>
<ellipse cx="100.2" cy="331.6" rx="1.6" ry="1.1" fill="#555" stroke="#222" stroke-width="0.4"/>
<ellipse cx="108.5" cy="325.9" rx="2.8" ry="2.0" fill="#fff" stroke="#222" stroke-width="1.0"/>
<ellipse cx="108.5" cy="325.9" rx="1.3" ry="0.9" fill="#555" stroke="#222" stroke-width="0.4"/>
<path d="M201.21,56.74 L214.29,78.16 Q217.00,82.60 211.80,82.60 L185.20,82.60 Q180.00,82.60 182.71,78.16 L195.79,56.74 Q198.50,52.30 201.21,56.74 Z" fill="#fff" stroke="#222" stroke-width="1.15"/>
<path d="M199.33,58.08 L212.07,78.93 Q212.90,80.30 211.30,80.30 L185.70,80.30 Q184.10,80.30 184.93,78.93 L197.67,58.08 Q198.50,56.71 199.33,58.08 Z" fill="none" stroke="#222" stroke-width="0.95"/>
<path d="M189.90,76.40 C189.50,73.20 191.10,69.60 194.00,68.20 C196.30,67.20 199.80,67.60 200.80,69.00 C201.50,70.70 200.90,74.20 198.90,75.70 C197.30,76.60 193.30,76.80 189.90,76.40 Z" fill="#2a2a2a" stroke="#222" stroke-width="1.05"/>
<path d="M192.30,73.20 L193.80,72.50 M196.80,69.70 L197.30,74.20 M191.80,75.20 L195.30,74.80" stroke="#ddd" stroke-width="0.7" fill="none"/>
<path d="M190.70,76.00 L191.10,72.40 L193.30,70.20 L194.70,72.70 L194.10,76.10 Z" fill="#8a8a8a"/>
<path d="M196.00,70.60 L196.00,75.80 M197.70,69.40 L197.50,75.40" stroke="#333" stroke-width="0.8" fill="none"/>
<path d="M202.00,69.80 C202.40,68.00 204.90,67.60 205.60,69.80 C206.10,71.60 203.50,73.60 203.10,75.60 L206.80,76.50" stroke="#1a1a1a" stroke-width="1.7" fill="none" stroke-linecap="round" stroke-linejoin="round"/>
<path d="M149.47,287.26 L162.53,309.04 Q165.20,313.50 160.00,313.50 L133.60,313.50 Q128.40,313.50 131.07,309.04 L144.13,287.26 Q146.80,282.80 149.47,287.26 Z" fill="#fff" stroke="#222" stroke-width="1.15"/>
<path d="M147.62,288.65 L160.32,309.83 Q161.14,311.20 159.54,311.20 L134.06,311.20 Q132.46,311.20 133.28,309.83 L145.98,288.65 Q146.80,287.27 147.62,288.65 Z" fill="none" stroke="#222" stroke-width="0.95"/>
<path d="M138.40,307.10 C138.00,303.90 139.60,300.30 142.50,298.90 C144.80,297.90 148.30,298.30 149.30,299.70 C150.00,301.40 149.40,304.90 147.40,306.40 C145.80,307.30 141.80,307.50 138.40,307.10 Z" fill="#fff" stroke="#222" stroke-width="1.05"/>
<path d="M139.20,306.70 L139.60,303.10 L141.80,300.90 L143.20,303.40 L142.60,306.80 Z" fill="#8a8a8a"/>
<path d="M144.50,301.30 L144.50,306.50 M146.20,300.10 L146.00,306.10" stroke="#333" stroke-width="0.8" fill="none"/>
<path d="M150.50,300.50 C150.90,298.70 153.40,298.30 154.10,300.50 C154.60,302.30 152.00,304.30 151.60,306.30 L155.30,307.20" stroke="#1a1a1a" stroke-width="1.7" fill="none" stroke-linecap="round" stroke-linejoin="round"/>
<path d="M406.9,233.1 L415,230 L415.6,235.6 L408.8,238.1 Z" fill="#fff" stroke="#1a1a1a" stroke-width="0.9" stroke-linejoin="round" />
<path d="M391.9,223.5 L403.5,213.6 L404.5,211 L408,209.5 L411.5,211 L412,213.8 L423.1,220 L425,222.5 L424.2,225 L421.5,226.5 L406.2,233.5 L406.2,240 L405,246.3 L398.8,248.1 L389.4,241.9 L389.4,237.5 L391.9,236.3 Z" fill="#fff" stroke="#1a1a1a" stroke-width="1.1" stroke-linejoin="round" />
<path d="M391.9,223.5 L403.1,228.8 L423.1,220" fill="none" stroke="#1a1a1a" stroke-width="0.9" stroke-linecap="round" stroke-linejoin="round"/>
<path d="M403.1,228.8 L406.2,240" fill="none" stroke="#1a1a1a" stroke-width="0.9" stroke-linecap="round" stroke-linejoin="round"/>
<ellipse cx="408" cy="212.3" rx="2.6" ry="2.0" fill="#fff" stroke="#222" stroke-width="0.9"/>
<path d="M404,214 L406.5,216.5 L415,216.8" fill="none" stroke="#222" stroke-width="0.6" stroke-linecap="round" stroke-linejoin="round"/>
<ellipse cx="422.6" cy="223" rx="2.2" ry="2.6" fill="#fff" stroke="#222" stroke-width="0.9"/>
<ellipse cx="422.8" cy="223.2" rx="0.9" ry="1.1" fill="none" stroke="#222" stroke-width="0.5"/>
<ellipse cx="403.1" cy="244.4" rx="2.6" ry="2.6" fill="#fff" stroke="#222" stroke-width="1.0"/>
<ellipse cx="403.3" cy="244.6" rx="1.1" ry="1.1" fill="none" stroke="#222" stroke-width="0.5"/>
<path d="M392,238 L397.5,240.5" fill="none" stroke="#222" stroke-width="0.6" stroke-linecap="round" stroke-linejoin="round"/>
<path d="M394.2,236.3 L394.8,240.3" fill="none" stroke="#222" stroke-width="0.6" stroke-linecap="round" stroke-linejoin="round"/>
<path d="M398.2,236.8 L398.8,241.6" fill="none" stroke="#222" stroke-width="0.6" stroke-linecap="round" stroke-linejoin="round"/>
<path d="M396,229.5 L397,231.5" fill="none" stroke="#222" stroke-width="0.6" stroke-linecap="round" stroke-linejoin="round"/>
<path d="M323.5,290.5 L341.3,291.2 L341.3,303.7 L338.1,307.8 L325.6,307.8 L322.5,301.6 Z" fill="#fff" stroke="#1a1a1a" stroke-width="1.1" stroke-linejoin="round" />
<path d="M328,292 L328.5,307.5" fill="none" stroke="#222" stroke-width="0.7" stroke-linecap="round" stroke-linejoin="round"/>
<path d="M336,292 L336.5,307.5" fill="none" stroke="#222" stroke-width="0.7" stroke-linecap="round" stroke-linejoin="round"/>
<path d="M329.5,300 L332.5,299 L333.5,303.5 L330.5,305 Z" fill="#222" stroke="#1a1a1a" stroke-width="0.4" stroke-linejoin="round" />
<path d="M317.8,269.3 L321.5,267.7 L340.2,268.3 L344.4,271.4 L344.9,273.5 L343.3,282.8 L341.3,289.1 L334,290.6 L323.5,290.5 L321,287 L319.7,284 L317,281 L316.5,276 L318,273 Z" fill="#fff" stroke="#1a1a1a" stroke-width="1.1" stroke-linejoin="round" />
<path d="M321.5,267.7 L323.5,271 L343,272.5" fill="none" stroke="#1a1a1a" stroke-width="0.8" stroke-linecap="round" stroke-linejoin="round"/>
<path d="M324.6,272 L324.6,279" fill="none" stroke="#222" stroke-width="0.7" stroke-linecap="round" stroke-linejoin="round"/>
<path d="M330.8,272 L330.8,288" fill="none" stroke="#222" stroke-width="0.7" stroke-linecap="round" stroke-linejoin="round"/>
<path d="M335,272.5 L335,289" fill="none" stroke="#222" stroke-width="0.7" stroke-linecap="round" stroke-linejoin="round"/>
<path d="M336.8,275.5 L342,276.5 L341,286 L336.5,285.5 Z" fill="none" stroke="#1a1a1a" stroke-width="0.7" stroke-linejoin="round" />
<path d="M338.5,277.5 L338.2,284" fill="none" stroke="#222" stroke-width="0.6" stroke-linecap="round" stroke-linejoin="round"/>
<path d="M316.3,281 L324,279.5 L328.5,281.5 L330.5,285 L328.5,288 L323,288.2 L318,286.5 Z" fill="#fff" stroke="#1a1a1a" stroke-width="1.0" stroke-linejoin="round" />
<ellipse cx="327.7" cy="284.4" rx="2.8" ry="3.0" fill="#fff" stroke="#1a1a1a" stroke-width="1.0"/>
<ellipse cx="327.7" cy="284.4" rx="1.2" ry="1.4" fill="none" stroke="#222" stroke-width="0.6"/>
<rect x="461.5" y="172.3" width="40.30000000000001" height="173.09999999999997" fill="#fff" stroke="#666" stroke-width="0.9"/>
<line x1="461.5" y1="201.2" x2="501.8" y2="201.2" stroke="#666" stroke-width="0.9"/>
<line x1="461.5" y1="230.3" x2="501.8" y2="230.3" stroke="#666" stroke-width="0.9"/>
<line x1="461.5" y1="259.2" x2="501.8" y2="259.2" stroke="#666" stroke-width="0.9"/>
<line x1="461.5" y1="288.3" x2="501.8" y2="288.3" stroke="#666" stroke-width="0.9"/>
<line x1="461.5" y1="317.2" x2="501.8" y2="317.2" stroke="#666" stroke-width="0.9"/>
<path d="M484.6,183 L484.4,194.5 L486,196.6 L493.4,196.6 L495,194.5 L494.8,183 Z" fill="#fff" stroke="#1a1a1a" stroke-width="0.9" stroke-linejoin="round" />
<path d="M484.5,188.6 L494.9,188.6 L494.9,191.6 L484.5,191.6 Z" fill="#1f1f1f"/>
<path d="M484.6,191.6 L494.8,191.6 L494.9,194.5 L493.4,196.3 L486,196.3 L484.5,194.5 Z" fill="#8a8a8a"/>
<path d="M484.8,186 L494.6,186" fill="none" stroke="#666" stroke-width="0.6" stroke-linecap="round" stroke-linejoin="round"/>
<path d="M482.3,180 C482.3,176 486,174.3 489.8,174.3 C493.6,174.3 497.3,176 497.3,180 L497.3,181.2 C497.3,183.2 493.8,184 489.8,184 C485.8,184 482.3,183.2 482.3,181.2 Z" fill="#fff" stroke="#1a1a1a" stroke-width="1.0"/>
<path d="M482.6,180.6 L486,182 L489.8,182.4 L493.6,182 L497,180.6" fill="none" stroke="#222" stroke-width="0.6" stroke-linecap="round" stroke-linejoin="round"/>
<path d="M487.6,177.6 L489,178.3 L489.8,176.8 L490.6,178.3 L492.1,177.6 L491.3,179.1 L492.1,180.4 L490.6,179.9 L489.8,181.2 L489,179.9 L487.6,180.4 L488.4,179.1 Z" fill="#fff" stroke="#333" stroke-width="0.6"/>
<path d="M487.6,209.2 L487.6,222.5 L488.7,223.5 L491.7,223.5 L492.8,222.5 L492.8,209.2 Z" fill="#aaa" stroke="#1a1a1a" stroke-width="0.7" stroke-linejoin="round" />
<path d="M487.7,211.2 L492.7,210.6" fill="none" stroke="#555" stroke-width="0.45" stroke-linecap="round" stroke-linejoin="round"/>
<path d="M487.7,212.8 L492.7,212.2" fill="none" stroke="#555" stroke-width="0.45" stroke-linecap="round" stroke-linejoin="round"/>
<path d="M487.7,214.4 L492.7,213.8" fill="none" stroke="#555" stroke-width="0.45" stroke-linecap="round" stroke-linejoin="round"/>
<path d="M487.7,216 L492.7,215.4" fill="none" stroke="#555" stroke-width="0.45" stroke-linecap="round" stroke-linejoin="round"/>
<path d="M487.7,217.6 L492.7,217" fill="none" stroke="#555" stroke-width="0.45" stroke-linecap="round" stroke-linejoin="round"/>
<path d="M487.7,219.2 L492.7,218.6" fill="none" stroke="#555" stroke-width="0.45" stroke-linecap="round" stroke-linejoin="round"/>
<path d="M487.7,220.8 L492.7,220.2" fill="none" stroke="#555" stroke-width="0.45" stroke-linecap="round" stroke-linejoin="round"/>
<path d="M485.59999999999997,208.2 C485.59999999999997,205.2 488.2,204.7 490.2,204.7 C492.2,204.7 494.8,205.2 494.8,208.2 C494.8,210.0 492.2,210.6 490.2,210.6 C488.2,210.6 485.59999999999997,210.0 485.59999999999997,208.2 Z" fill="#fff" stroke="#222" stroke-width="0.8"/>
<path d="M488.6,206.8 L491.8,206.8" fill="none" stroke="#222" stroke-width="0.6" stroke-linecap="round" stroke-linejoin="round"/>
<path d="M490.2,205.6 L490.2,208" fill="none" stroke="#222" stroke-width="0.6" stroke-linecap="round" stroke-linejoin="round"/>
<path d="M487.6,238.5 L487.6,252.5 L488.7,253.5 L491.7,253.5 L492.8,252.5 L492.8,238.5 Z" fill="#aaa" stroke="#1a1a1a" stroke-width="0.7" stroke-linejoin="round" />
<path d="M487.7,240.5 L492.7,239.9" fill="none" stroke="#555" stroke-width="0.45" stroke-linecap="round" stroke-linejoin="round"/>
<path d="M487.7,242.1 L492.7,241.5" fill="none" stroke="#555" stroke-width="0.45" stroke-linecap="round" stroke-linejoin="round"/>
<path d="M487.7,243.7 L492.7,243.1" fill="none" stroke="#555" stroke-width="0.45" stroke-linecap="round" stroke-linejoin="round"/>
<path d="M487.7,245.3 L492.7,244.7" fill="none" stroke="#555" stroke-width="0.45" stroke-linecap="round" stroke-linejoin="round"/>
<path d="M487.7,246.9 L492.7,246.3" fill="none" stroke="#555" stroke-width="0.45" stroke-linecap="round" stroke-linejoin="round"/>
<path d="M487.7,248.5 L492.7,247.9" fill="none" stroke="#555" stroke-width="0.45" stroke-linecap="round" stroke-linejoin="round"/>
<path d="M487.7,250.1 L492.7,249.5" fill="none" stroke="#555" stroke-width="0.45" stroke-linecap="round" stroke-linejoin="round"/>
<path d="M485.59999999999997,237.5 C485.59999999999997,234.5 488.2,234.0 490.2,234.0 C492.2,234.0 494.8,234.5 494.8,237.5 C494.8,239.3 492.2,239.9 490.2,239.9 C488.2,239.9 485.59999999999997,239.3 485.59999999999997,237.5 Z" fill="#fff" stroke="#222" stroke-width="0.8"/>
<path d="M488.6,236.1 L491.8,236.1" fill="none" stroke="#222" stroke-width="0.6" stroke-linecap="round" stroke-linejoin="round"/>
<path d="M490.2,234.9 L490.2,237.3" fill="none" stroke="#222" stroke-width="0.6" stroke-linecap="round" stroke-linejoin="round"/>
<path d="M485.7,273 L485.7,283.5 L487.2,285.2 L492,285.2 L493.5,283.5 L493.5,273 Z" fill="#c8c8c8" stroke="#1a1a1a" stroke-width="0.8" stroke-linejoin="round" />
<path d="M485.8,276 L493.4,275.3" fill="none" stroke="#555" stroke-width="0.5" stroke-linecap="round" stroke-linejoin="round"/>
<path d="M485.8,278.2 L493.4,277.5" fill="none" stroke="#555" stroke-width="0.5" stroke-linecap="round" stroke-linejoin="round"/>
<path d="M485.8,280.4 L493.4,279.7" fill="none" stroke="#555" stroke-width="0.5" stroke-linecap="round" stroke-linejoin="round"/>
<path d="M485.8,282.6 L493.4,281.9" fill="none" stroke="#555" stroke-width="0.5" stroke-linecap="round" stroke-linejoin="round"/>
<path d="M481.5,270.3 C481.5,268.3 485,267.5 489.7,267.5 C494.4,267.5 497.9,268.3 497.9,270.3 L497.9,271.6 C497.9,273.4 494.4,274.3 489.7,274.3 C485,274.3 481.5,273.4 481.5,271.6 Z" fill="#fff" stroke="#1a1a1a" stroke-width="0.9"/>
<path d="M482.4,269 L482.4,264.3 L485.3,261.6 L494.3,261.6 L497.1,264.3 L497.1,269 L494.3,271.2 L485.3,271.2 Z" fill="#fff" stroke="#1a1a1a" stroke-width="0.9" stroke-linejoin="round" />
<path d="M482.4,264.3 L485.3,266.5 L494.3,266.5 L497.1,264.3" fill="none" stroke="#222" stroke-width="0.6" stroke-linecap="round" stroke-linejoin="round"/>
<path d="M485.3,266.5 L485.3,271.2" fill="none" stroke="#222" stroke-width="0.6" stroke-linecap="round" stroke-linejoin="round"/>
<path d="M494.3,266.5 L494.3,271.2" fill="none" stroke="#222" stroke-width="0.6" stroke-linecap="round" stroke-linejoin="round"/>
<ellipse cx="488.7" cy="306.3" rx="10.6" ry="4.8" fill="#fff" stroke="#1a1a1a" stroke-width="0.9"/>
<path d="M479.8,304.5 L479.8,299.5 L483.2,295 L494.2,295 L497.6,299.5 L497.6,304.5 L494.2,307.6 L483.2,307.6 Z" fill="#fff" stroke="#1a1a1a" stroke-width="0.9" stroke-linejoin="round" />
<path d="M479.8,299.5 L483.2,302.3 L494.2,302.3 L497.6,299.5" fill="none" stroke="#222" stroke-width="0.6" stroke-linecap="round" stroke-linejoin="round"/>
<path d="M483.2,302.3 L483.2,307.6" fill="none" stroke="#222" stroke-width="0.6" stroke-linecap="round" stroke-linejoin="round"/>
<path d="M494.2,302.3 L494.2,307.6" fill="none" stroke="#222" stroke-width="0.6" stroke-linecap="round" stroke-linejoin="round"/>
<ellipse cx="488.7" cy="299" rx="4.2" ry="2.3" fill="#bbb" stroke="#1a1a1a" stroke-width="0.7"/>
<ellipse cx="488.7" cy="299" rx="2.2" ry="1.2" fill="#777" stroke="none"/>
<path d="M463.9,326.4 L469.2,329 L488,319.2 L499.2,325.5 L481.5,335.8 L486.5,339 L463.9,339 Z" fill="#fff" stroke="#1a1a1a" stroke-width="1.0" stroke-linejoin="round" />
<path d="M499.2,325.5 L499.2,329.3 L484.5,337.8 L481.5,335.8 Z" fill="#111" stroke="#1a1a1a" stroke-width="0.6" stroke-linejoin="round" />
<rect x="463.9" y="338.8" width="22.8" height="4" fill="#111"/>
<text x="481.6" y="353.5" font-size="7.6" fill="#1a1a1a" text-anchor="middle" textLength="33.6" lengthAdjust="spacingAndGlyphs">00182877</text>
<path d="M466.53,183.40 L468.38,183.40 L468.38,175.93 L466.82,175.93 C466.34,176.80 465.47,177.29 464.40,177.48 L464.40,178.84 C465.27,178.65 466.05,178.26 466.53,177.77 Z" fill="#c8c8c8"/>
<text x="470.9" y="183.4" font-weight="bold" font-size="10.6" fill="#c8c8c8">0</text>
<g font-weight="bold" font-size="11" fill="#111"><text x="465" y="210.9">8</text><text x="465" y="240.2">6</text><text x="464.8" y="269">4</text><text x="464.8" y="297.8">3</text></g>
<g fill="#fff" stroke="#222" stroke-width="1.2">
<circle cx="218.1" cy="29" r="9.2"/>
<circle cx="201.9" cy="97.2" r="9.2"/>
<circle cx="166.25" cy="145.75" r="9.2"/>
<circle cx="136.2" cy="178.2" r="9.2"/>
<circle cx="387" cy="200.5" r="9.2"/>
<circle cx="297.2" cy="269.6" r="9.2"/>
</g>
<g fill="#fff" stroke="#4a4a4a" stroke-width="1.05"><circle cx="49" cy="267.25" r="9.3"/><circle cx="109.4" cy="291.2" r="9.3"/></g>
<rect x="313.5" y="45" width="13.5" height="18.5" rx="1.5" fill="#fff" stroke="#f2cc1a" stroke-width="2.4"/>
<g font-weight="bold" font-size="11" fill="#111" text-anchor="middle">
<text x="218.4" y="32.2">3</text>
<text x="201.9" y="101.1">4</text>
<text x="166.25" y="149.7">6</text>
<text x="136.2" y="182">8</text>
<text x="387" y="204.4">6</text>
<text x="297.2" y="273.5">8</text>
<text x="322" y="81.5">2</text>
<text x="138.75" y="95.2">5</text>
<text x="94.7" y="127.4">7</text>
<text x="411.75" y="261">5</text>
<text x="362.8" y="294.5">7</text>
<text x="45.3" y="342.3" fill="#cdcdcd">9</text>
<text x="71.3" y="342.3" fill="#cdcdcd">9</text>
</g>
<path d="M321.30,57.30 L323.20,57.30 L323.20,49.60 L321.60,49.60 C321.10,50.50 320.20,51.00 319.10,51.20 L319.10,52.60 C320.00,52.40 320.80,52.00 321.30,51.50 Z" fill="#111"/>
<path d="M167.10,70.80 L169.00,70.80 L169.00,63.10 L167.40,63.10 C166.90,64.00 166.00,64.50 164.90,64.70 L164.90,66.10 C165.80,65.90 166.60,65.50 167.10,65.00 Z" fill="#111"/>
<path d="M174.10,70.80 L176.00,70.80 L176.00,63.10 L174.40,63.10 C173.90,64.00 173.00,64.50 171.90,64.70 L171.90,66.10 C172.80,65.90 173.60,65.50 174.10,65.00 Z" fill="#111"/>
<path d="M45.60,270.60 L47.50,270.60 L47.50,262.90 L45.90,262.90 C45.40,263.80 44.50,264.30 43.40,264.50 L43.40,265.90 C44.30,265.70 45.10,265.30 45.60,264.80 Z" fill="#d2d2d2"/>
<text x="49.1" y="270.6" font-weight="bold" font-size="11" fill="#d2d2d2">0</text>
<path d="M106.00,294.50 L107.90,294.50 L107.90,286.80 L106.30,286.80 C105.80,287.70 104.90,288.20 103.80,288.40 L103.80,289.80 C104.70,289.60 105.50,289.20 106.00,288.70 Z" fill="#d2d2d2"/>
<text x="109.5" y="294.5" font-weight="bold" font-size="11" fill="#d2d2d2">0</text>
<path d="M143.50,273.60 L145.40,273.60 L145.40,265.90 L143.80,265.90 C143.30,266.80 142.40,267.30 141.30,267.50 L141.30,268.90 C142.20,268.70 143.00,268.30 143.50,267.80 Z" fill="#d2d2d2"/>
<text x="147.0" y="273.6" font-weight="bold" font-size="11" fill="#d2d2d2">2</text>
<!--/CAR-->
</svg>
<div class="sb"></div>
<div class="tb">
<div class="r h" style="top:367px"><span style="left:5px">No.</span><span style="left:59px">Description</span><span style="left:176px">Supp.</span><span style="left:237px">Qty</span><span style="left:266px">From</span><span style="left:307px">Up To</span><span style="left:347px">Part Number</span><span style="left:418.5px">Price</span><span style="left:471.5px">Notes</span></div>
<div class="r y" style="top:382.0px"><span style="left:4.75px">01</span><span style="left:28.25px">Control unit airbag</span><span style="left:238px">1</span><span style="left:261px">09/2005</span><span style="left:346.5px"><a>65779172018</a></span><span style="right:59px">$459.08</span></div>
<div class="r g" style="top:398.1px"><span style="left:4.75px">02</span><span style="left:28.25px">Bracket, control unit Airbag</span><span style="left:238px">1</span><span style="left:261px">09/2005</span><span style="left:346.5px"><a>65776942903</a></span><span style="right:59px">$4.14</span></div>
<div class="r w" style="top:414.2px"><span style="left:4.75px">03</span><span style="left:28.25px">Locknut</span><span style="left:151px">M6 ZNT</span><span style="left:238px">3</span><span style="left:261px">09/2005</span><span style="left:346.5px"><a>07146982788</a></span><span style="right:59px">$0.20</span></div>
<div class="r g" style="top:430.3px"><span style="left:4.75px">04</span><span style="left:28.25px">Hex bolt</span><span style="left:151px">M6X12-SC-U1-8.8</span><span style="left:238px">3</span><span style="left:261px">09/2005</span><span style="left:304px">01/2006</span><span style="left:346.5px"><a>07119905135</a></span><span style="right:59px">$0.47</span><span style="left:468.5px">ENDED</span></div>
<div class="r w" style="top:446.4px"><span style="left:4.75px">04</span><span style="left:28.25px">Hex bolt with washer</span><span style="left:151px">M6X12-U1-8.8</span><span style="left:238px">3</span><span style="left:261px">09/2005</span><span style="left:346.5px"><a>07119904517</a></span><span style="right:59px">$0.36</span></div>
<div class="r g" style="top:462.5px"><span style="left:4.75px">05</span><span style="left:28.25px">Sensor, B-pillar</span><span style="left:238px">2</span><span style="left:261px">09/2005</span><span style="left:346.5px"><a>65776977398</a></span><span style="right:59px">$70.35</span></div>
</div>
</body></html>
